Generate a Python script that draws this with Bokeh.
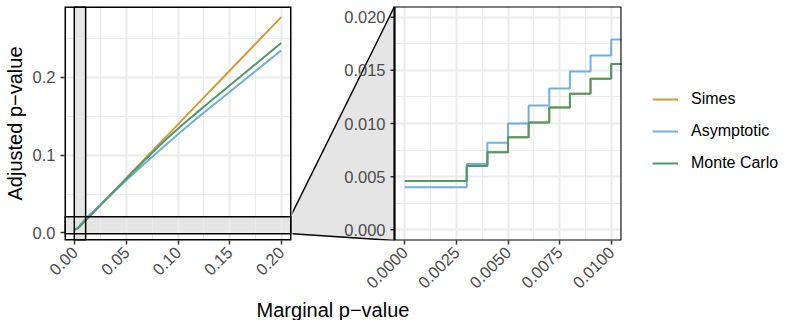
import math
from bokeh.plotting import figure
from bokeh.models import (Range1d, FixedTicker, PrintfTickFormatter, BoxAnnotation,
                          Legend, LegendItem, ColumnDataSource)
from bokeh.layouts import row, column
from bokeh.core.properties import value
from bokeh.embed import file_html
from bokeh.resources import INLINE

# ---------------- data ----------------
marginal_p = [0.000, 0.003, 0.004, 0.005, 0.006, 0.007, 0.008, 0.009, 0.010,
              0.02, 0.03, 0.04, 0.05, 0.06, 0.07, 0.08, 0.09, 0.10,
              0.11, 0.12, 0.13, 0.14, 0.15, 0.16, 0.17, 0.18, 0.19, 0.20]
simes = [0.0046, 0.0060, 0.0073, 0.0087, 0.0101, 0.0115, 0.0128, 0.0142, 0.0156,
         0.0294, 0.0432, 0.0569, 0.0707, 0.0845, 0.0983, 0.1121, 0.1258, 0.1396,
         0.1534, 0.1672, 0.1810, 0.1947, 0.2085, 0.2223, 0.2361, 0.2499, 0.2636, 0.2774]
asymptotic = [0.0040, 0.0062, 0.0082, 0.0100, 0.0117, 0.0133, 0.0149, 0.0164, 0.0179,
              0.0303, 0.0428, 0.0554, 0.0678, 0.0800, 0.0920, 0.1038, 0.1154, 0.1268,
              0.1381, 0.1492, 0.1599, 0.1706, 0.1812, 0.1919, 0.2026, 0.2133, 0.2239, 0.2346]
monte_carlo = [0.0046, 0.0060, 0.0073, 0.0087, 0.0101, 0.0115, 0.0128, 0.0142, 0.0156,
               0.0292, 0.0428, 0.0563, 0.0698, 0.0832, 0.0965, 0.1096, 0.1222, 0.1340,
               0.1454, 0.1566, 0.1676, 0.1785, 0.1895, 0.2004, 0.2113, 0.2222, 0.2332, 0.2441]

series_names = ["Simes", "Asymptotic", "Monte Carlo"]
series_colors = ["#D89B34", "#6EB0E3", "#4E9A6A"]

zoom_xlim = [0.0, 0.01]
zoom_ylim = [0.0, 0.02]

main_x_ticks = [0.0, 0.05, 0.10, 0.15, 0.20]
main_x_minor = [0.025, 0.075, 0.125, 0.175]
main_y_ticks = [0.0, 0.1, 0.2]
main_y_minor = [0.05, 0.15, 0.25]
zoom_x_ticks = [0.0, 0.0025, 0.005, 0.0075, 0.01]
zoom_x_minor = [0.00125, 0.00375, 0.00625, 0.00875]
zoom_y_ticks = [0.0, 0.005, 0.010, 0.015, 0.020]
zoom_y_labels = ["0.000", "0.005", "0.010", "0.015", "0.020"]
zoom_y_minor = [0.0025, 0.0075, 0.0125, 0.0175]

x_title = "Marginal p\u2212value"
y_title = "Adjusted p\u2212value"

# ---------------- layout constants ----------------
FONT = "Liberation Sans"
TICK_FONT = "16.5px"
TICK_COLOR = "#4D4D4D"
LEFT_BORDER = 54
FRAME_W = 227
GAP = 102
RIGHT_BORDER = 158
TOP = 6
FRAME_H = 234
BOTTOM = 60
FIG_H = TOP + FRAME_H + BOTTOM
TITLE_H = 20
LEFT_W = LEFT_BORDER + FRAME_W + 1
TOTAL_W = LEFT_W + GAP + FRAME_W + RIGHT_BORDER
TICK_LEN = 4
TICK_STANDOFF = 5


def expand(lo, hi, mult=0.05):
    d = (hi - lo) * mult
    return (lo - d, hi + d)


all_y = simes + asymptotic + monte_carlo
main_x = expand(min(marginal_p), max(marginal_p))
main_y = expand(min(all_y), max(all_y))
zoom_x = expand(*zoom_xlim)
zoom_y = expand(*zoom_ylim)

src = ColumnDataSource(dict(x=marginal_p, simes=simes, asym=asymptotic, mc=monte_carlo))
keys = ["simes", "asym", "mc"]


def make_fig(xr, yr, frame_w, border_left, border_right, **kw):
    p = figure(x_range=xr, y_range=yr, frame_width=frame_w, height=FIG_H,
               min_border_left=border_left, min_border_right=border_right,
               min_border_top=TOP, min_border_bottom=BOTTOM,
               output_backend="svg", toolbar_location=None, **kw)
    p.outline_line_color = None
    p.background_fill_color = "white"
    p.border_fill_color = "white"
    return p


def style(p, xt, xm, xf, yt, ym, yf):
    p.xaxis.ticker = FixedTicker(ticks=xt, minor_ticks=xm)
    p.xgrid.ticker = FixedTicker(ticks=xt, minor_ticks=xm)
    p.ygrid.ticker = FixedTicker(ticks=yt, minor_ticks=ym)
    p.xaxis.formatter = PrintfTickFormatter(format=xf)
    if p.yaxis:
        p.yaxis.ticker = FixedTicker(ticks=yt, minor_ticks=ym)
        p.yaxis.formatter = PrintfTickFormatter(format=yf)
    for ax in p.axis:
        ax.axis_line_color = None
        ax.major_tick_line_color = "#333333"
        ax.major_tick_line_width = 1.5
        ax.major_tick_out = TICK_LEN
        ax.major_tick_in = 0
        ax.minor_tick_line_color = None
        ax.major_label_text_font = FONT
        ax.major_label_text_font_size = TICK_FONT
        ax.major_label_text_color = TICK_COLOR
        ax.major_label_standoff = TICK_STANDOFF
    p.xaxis.major_label_orientation = math.pi / 4
    for g in p.grid:
        g.grid_line_color = "#EBEBEB"
        g.grid_line_width = 2
        g.minor_grid_line_color = "#EBEBEB"
        g.minor_grid_line_width = 1


main_xr = Range1d(*main_x)
main_yr = Range1d(*main_y)
zoom_yr = Range1d(*zoom_y)

# ---------------- main panel ----------------
left = make_fig(main_xr, main_yr, FRAME_W, LEFT_BORDER, 1)
style(left, main_x_ticks, main_x_minor, "%.2f", main_y_ticks, main_y_minor, "%.1f")
left.add_layout(BoxAnnotation(fill_color=None, line_color="black", line_alpha=1.0,
                              line_width=3, level="overlay"))
left.yaxis.axis_label = y_title
left.yaxis.axis_label_text_font = FONT
left.yaxis.axis_label_text_font_size = "20px"
left.yaxis.axis_label_text_font_style = "normal"
left.yaxis.axis_label_text_color = "black"
left.yaxis.axis_label_standoff = 4

band_v = BoxAnnotation(left=zoom_x[0], right=zoom_x[1], fill_color="#E5E5E5",
                       fill_alpha=1.0, line_color=None, level="underlay")
band_h = BoxAnnotation(bottom=zoom_y[0], top=zoom_y[1], fill_color="#E5E5E5",
                       fill_alpha=1.0, line_color=None, level="underlay")
left.center = [band_v, band_h] + list(left.center)
left.add_layout(BoxAnnotation(left=zoom_x[0], right=zoom_x[1], fill_color=None,
                              line_color="black", line_alpha=1.0, line_width=1.5))
left.add_layout(BoxAnnotation(bottom=zoom_y[0], top=zoom_y[1], fill_color=None,
                              line_color="black", line_alpha=1.0, line_width=1.5))

# ---------------- zoom panel (its frame also covers the connecting gap) ----------------
px_per_x = FRAME_W / (zoom_x[1] - zoom_x[0])
gap_start = zoom_x[0] - GAP / px_per_x
zoom = make_fig(Range1d(gap_start, zoom_x[1]), zoom_yr, GAP + FRAME_W, 0, RIGHT_BORDER,
                y_axis_location=None)
style(zoom, zoom_x_ticks, zoom_x_minor, "%.4f", zoom_y_ticks, zoom_y_minor, "%.3f")
# blank out the gridlines in the gap
zoom.add_layout(BoxAnnotation(right=zoom_x[0], fill_color="white", fill_alpha=1.0,
                              line_color=None, level="underlay"))
zoom.add_layout(BoxAnnotation(left=zoom_x[0], fill_color=None, line_color="black",
                              line_alpha=1.0, line_width=2.2, level="overlay"))


def main_to_zoom_y(v):
    return zoom_y[0] + (v - main_y[0]) / (main_y[1] - main_y[0]) * (zoom_y[1] - zoom_y[0])


x_far = gap_start - 2 / px_per_x
trap_top = main_to_zoom_y(zoom_y[1])
trap_bot = main_to_zoom_y(zoom_y[0])
zoom.patch(x=[x_far, zoom_x[0], zoom_x[0], x_far], y=[trap_top, zoom_y[1], zoom_y[0], trap_bot],
           fill_color="#E5E5E5", line_color=None)
zoom.line(x=[x_far, zoom_x[0]], y=[trap_top, zoom_y[1]], line_color="black", line_width=1.5)
zoom.line(x=[x_far, zoom_x[0]], y=[trap_bot, zoom_y[0]], line_color="black", line_width=1.5)

# y axis of the zoom panel (ticks + labels left of the panel)
n = len(zoom_y_ticks)
zoom.segment(x0=[zoom_x[0] - TICK_LEN / px_per_x] * n, x1=[zoom_x[0]] * n,
             y0=zoom_y_ticks, y1=zoom_y_ticks, line_color="#333333", line_width=1.5)
zoom.text(x=[zoom_x[0] - (TICK_LEN + TICK_STANDOFF) / px_per_x] * n, y=zoom_y_ticks,
          text=zoom_y_labels, text_font=value(FONT), text_font_size=TICK_FONT,
          text_color=TICK_COLOR, text_align="right", text_baseline="middle")

items = []
for key, name, col in zip(keys, series_names, series_colors):
    left.line("x", key, source=src, line_color=col, line_width=2)
    r = zoom.step("x", key, source=src, mode="after", line_color=col, line_width=2)
    items.append(LegendItem(label=name, renderers=[r]))

legend = Legend(items=items, location=(31, 67), orientation="vertical",
                label_text_font=FONT, label_text_font_size="16px",
                label_text_color="black", glyph_width=26, glyph_height=20,
                label_height=20, label_standoff=13, spacing=12, padding=0, margin=0,
                border_line_color=None, background_fill_alpha=0)
zoom.add_layout(legend, "right")

# ---------------- shared x title ----------------
tf = figure(width=TOTAL_W, height=TITLE_H, x_range=Range1d(0, TOTAL_W), y_range=Range1d(0, TITLE_H),
            min_border=0, x_axis_type=None, y_axis_type=None,
            output_backend="svg", toolbar_location=None)
tf.outline_line_color = None
tf.background_fill_color = "white"
tf.border_fill_color = "white"
title_x = (LEFT_BORDER + (LEFT_W + GAP + FRAME_W)) / 2
tf.text(x=[title_x], y=[11], text=[x_title], text_font=value(FONT), text_font_size="20px",
        text_align="center", text_baseline="middle", text_color="black")

layout = column(row(left, zoom), tf)
open("out.html", "w").write(file_html(layout, INLINE))
